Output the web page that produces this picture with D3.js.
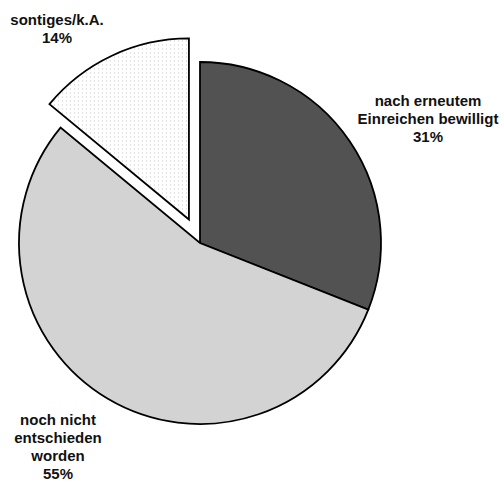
<!DOCTYPE html>
<html>
<head>
<meta charset="utf-8">
<script src="https://cdn.jsdelivr.net/npm/d3@7"></script>
<style>
html,body{margin:0;padding:0;background:#fff;}
svg{display:block;}
text{font-family:"Liberation Sans",Arial,sans-serif;font-weight:bold;font-size:15px;fill:#111;}
</style>
</head>
<body>
<svg id="c" width="504" height="483"></svg>
<script>
const categories = ["nach erneutem Einreichen bewilligt", "noch nicht entschieden worden", "sontiges/k.A."];
const values = [31, 55, 14];
const labelLines = [
  ["nach erneutem", "Einreichen bewilligt", "31%"],
  ["noch nicht", "entschieden", "worden", "55%"],
  ["sontiges/k.A.", "14%"]
];
const fills = ["#525252", "#d3d3d3", "url(#dots)"];
const explode = [0, 0, 26];
const labelPos = [[428, 106], [58, 425], [57, 25]];

const svg = d3.select("#c");
const defs = svg.append("defs");
const pat = defs.append("pattern").attr("id", "dots").attr("patternUnits", "userSpaceOnUse")
  .attr("width", 4).attr("height", 4);
pat.append("rect").attr("width", 4).attr("height", 4).attr("fill", "#fff");
pat.append("rect").attr("x", 1).attr("y", 1).attr("width", 1).attr("height", 1).attr("fill", "#c4c4c4");

const cx = 200, cy = 243, r = 181;
const pie = d3.pie().sort(null).value(d => d);
const arcs = pie(values);
const arc = d3.arc().innerRadius(0).outerRadius(r);
const g = svg.append("g").attr("transform", `translate(${cx},${cy})`);
g.selectAll("path").data(arcs).enter().append("path")
  .attr("d", arc)
  .attr("fill", (d, i) => fills[i])
  .attr("stroke", "#000")
  .attr("stroke-width", 1.8)
  .attr("stroke-linejoin", "miter")
  .attr("transform", (d, i) => {
    const a = (d.startAngle + d.endAngle) / 2;
    return `translate(${Math.sin(a) * explode[i]},${-Math.cos(a) * explode[i]})`;
  });

labelLines.forEach((lines, i) => {
  const t = svg.append("text").attr("text-anchor", "middle");
  lines.forEach((l, j) => {
    t.append("tspan").attr("x", labelPos[i][0]).attr("y", labelPos[i][1] + j * 18).text(l);
  });
});
</script>
</body>
</html>
